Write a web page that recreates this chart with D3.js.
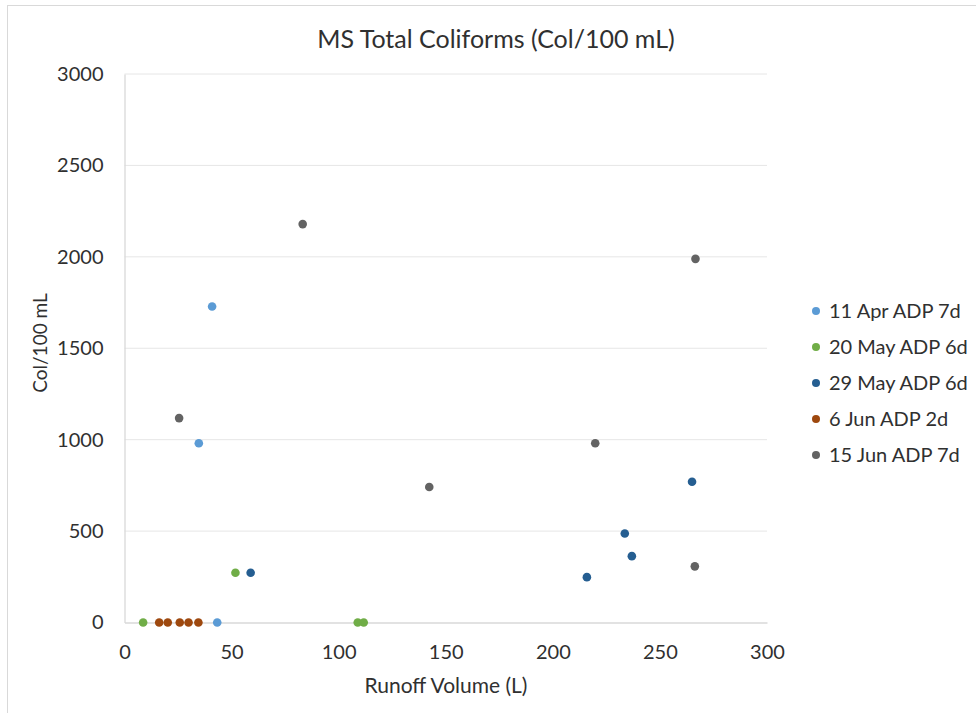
<!DOCTYPE html>
<html>
<head>
<meta charset="utf-8">
<script src="https://cdn.jsdelivr.net/npm/d3@7"></script>
<style>
  body { margin: 0; background: #fff; }
  text { font-family: Lato, "Open Sans", sans-serif; fill: #303030; }
</style>
</head>
<body>
<svg id="chart" width="976" height="713"></svg>
<script>
// series names and colours
const seriesNames = ['11 Apr ADP 7d', '20 May ADP 6d', '29 May ADP 6d', '6 Jun ADP 2d', '15 Jun ADP 7d'];
const seriesColors = ['#5b9bd5', '#70ad47', '#255e91', '#9e480e', '#636363'];

// [runoff volume (L), col/100 mL]
const apr11 = [[40.9, 1728], [34.7, 980], [43.3, 0]];
const may20 = [[8.7, 0], [51.8, 272], [108.9, 0], [111.7, 0]];
const may29 = [[58.9, 272], [215.9, 248], [233.6, 487], [236.9, 363], [265.0, 770]];
const jun6 = [[16.2, 0], [20.2, 0], [25.8, 0], [29.9, 0], [34.5, 0]];
const jun15 = [[25.5, 1118], [83.2, 2179], [142.3, 741], [219.8, 980], [266.6, 1989], [266.3, 307]];

const xTicks = [0, 50, 100, 150, 200, 250, 300];
const yTicks = [0, 500, 1000, 1500, 2000, 2500, 3000];

const series = [apr11, may20, may29, jun6, jun15];

const svg = d3.select('#chart');
const W = 976, H = 713;
const m = { left: 124.5, right: 209, top: 74, bottom: 90.5 };

// chart frame
svg.append('rect')
    .attr('x', 7.5).attr('y', 5.5)
    .attr('width', W).attr('height', H)
    .attr('fill', 'none')
    .attr('stroke', '#d9d9d9');

const x = d3.scaleLinear().domain([0, 300]).range([m.left, W - m.right]);
const y = d3.scaleLinear().domain([0, 3000]).range([H - m.bottom, m.top]);

// gridlines
svg.append('g')
    .selectAll('line')
    .data(yTicks.slice(1))
    .join('line')
    .attr('x1', x(0)).attr('x2', x(300))
    .attr('y1', d => y(d)).attr('y2', d => y(d))
    .attr('stroke', '#e6e6e6')
    .attr('stroke-width', 1);

// axes
const xAxis = svg.append('g')
    .attr('transform', 'translate(0,' + y(0) + ')')
    .call(d3.axisBottom(x).tickValues(xTicks).tickSize(0).tickPadding(22));
const yAxis = svg.append('g')
    .attr('transform', 'translate(' + x(0) + ',0)')
    .call(d3.axisLeft(y).tickValues(yTicks).tickFormat(d3.format('d')).tickSize(0).tickPadding(21));

[xAxis, yAxis].forEach(function(a) {
    a.select('.domain').attr('stroke', '#d9d9d9').attr('stroke-width', 1.3);
    a.selectAll('text')
        .attr('font-size', 20)
        .attr('fill', '#303030')
        .style('font-family', 'Lato, "Open Sans", sans-serif');
});

// points
series.forEach(function(s, i) {
    svg.append('g')
        .selectAll('circle')
        .data(s)
        .join('circle')
        .attr('cx', d => x(d[0]))
        .attr('cy', d => y(d[1]))
        .attr('r', 4.3)
        .attr('fill', seriesColors[i]);
});

// title
svg.append('text')
    .attr('x', 496).attr('y', 48)
    .attr('text-anchor', 'middle')
    .attr('font-size', 25)
    .text('MS Total Coliforms (Col/100 mL)');

// axis titles
svg.append('text')
    .attr('x', 446).attr('y', 693)
    .attr('text-anchor', 'middle')
    .attr('font-size', 21)
    .text('Runoff Volume (L)');

svg.append('text')
    .attr('transform', 'translate(47,343) rotate(-90)')
    .attr('text-anchor', 'middle')
    .attr('font-size', 19)
    .text('Col/100 mL');

// legend
const legend = svg.append('g')
    .selectAll('g')
    .data(seriesNames)
    .join('g')
    .attr('transform', (d, i) => 'translate(816,' + (311 + i * 36) + ')');
legend.append('circle')
    .attr('r', 4)
    .attr('fill', (d, i) => seriesColors[i]);
legend.append('text')
    .attr('x', 13).attr('y', 7)
    .attr('font-size', 20)
    .text(d => d);
</script>
</body>
</html>
